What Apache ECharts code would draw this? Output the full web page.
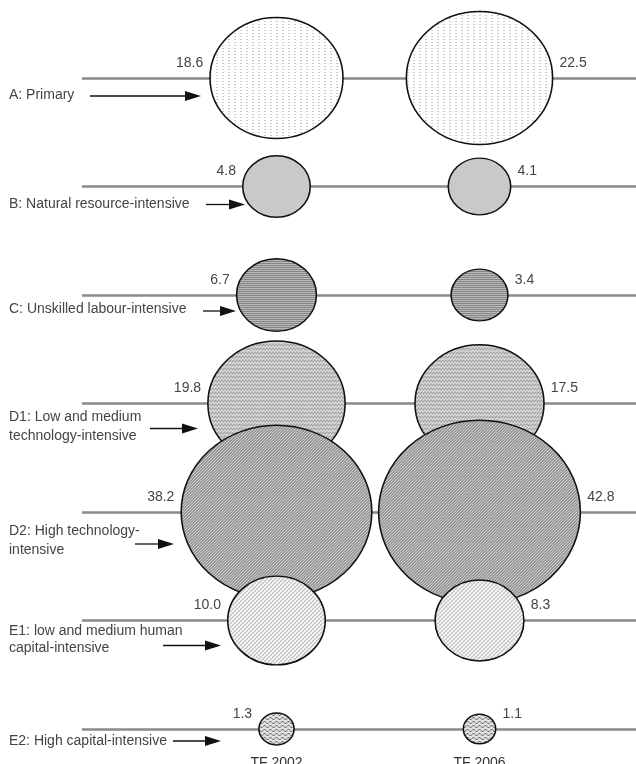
<!DOCTYPE html>
<html><head><meta charset="utf-8">
<script src="https://cdn.jsdelivr.net/npm/echarts@6/dist/echarts.min.js"></script>
<style>html,body{margin:0;padding:0;background:#fff}#c{width:636px;height:764px}</style>
</head><body><div id="c"></div>
<script>
// ---- data ----
const categories = ['A: Primary','B: Natural resource-intensive','C: Unskilled labour-intensive','D1: Low and medium technology-intensive','D2: High technology-intensive','E1: low and medium human capital-intensive','E2: High capital-intensive'];
const labelLines = [['A: Primary'],['B: Natural resource-intensive'],['C: Unskilled labour-intensive'],['D1: Low and medium','technology-intensive'],['D2: High technology-','intensive'],['E1: low and medium human','capital-intensive'],['E2: High capital-intensive']];
const periods = ['TF 2002','TF 2006'];
const values2002 = [18.6, 4.8, 6.7, 19.8, 38.2, 10.0, 1.3];
const values2006 = [22.5, 4.1, 3.4, 17.5, 42.8, 8.3, 1.1];

// ---- styling / layout (not data) ----
const FONT = '"Liberation Sans", Arial, sans-serif';
const KX = 30.84, KY = 28.06; // bubble size scale: area proportional to value
const annot = [
  {ty:[17], ay:18, ax:[90,201]},
  {ty:[18], ay:18, ax:[206,245]},
  {ty:[14], ay:16, ax:[203,236]},
  {ty:[14,33], ay:25, ax:[150,198]},
  {ty:[19,38], ay:32, ax:[135,174]},
  {ty:[11,28], ay:25, ax:[163,221]},
  {ty:[12], ay:12, ax:[173,221]}
];

function makeTile(w, h, bg, draw) {
  const c = document.createElement('canvas');
  c.width = w; c.height = h;
  const g = c.getContext('2d');
  g.fillStyle = bg; g.fillRect(0, 0, w, h);
  draw(g);
  return c;
}
function px(g, col, pts) { g.fillStyle = col; pts.forEach(p => g.fillRect(p[0], p[1], 1, 1)); }

const tiles = [
  makeTile(6, 3, '#ffffff', g => px(g, '#9a9a9a', [[0,0]])),
  makeTile(2, 2, '#f2f2f2', g => px(g, '#a0a0a0', [[0,0],[1,1]])),
  makeTile(2, 2, '#d8d8d8', g => { px(g, '#707070', [[0,0]]); px(g, '#9a9a9a', [[1,0],[0,1]]); }),
  makeTile(3, 4, '#e4e4e4', g => px(g, '#5a5a5a', [[2,0],[1,1],[0,2]])),
  makeTile(3, 3, '#cccccc', g => px(g, '#666666', [[2,0],[1,1],[0,2]])),
  makeTile(4, 4, '#fbfbfb', g => { px(g, '#6a6a6a', [[0,0],[2,2]]); px(g, '#bbbbbb', [[1,3],[3,1]]); }),
  makeTile(6, 4, '#e2e2e2', g => px(g, '#707070', [[0,0],[1,1],[2,2],[3,2],[4,1],[5,0]]))
];

const sizeOf = v => [KX * Math.sqrt(v), KY * Math.sqrt(v)];
// symbols are drawn as unit shapes scaled by size/2, so undo that scale on the pattern
function patternFor(i, v) {
  const s = sizeOf(v);
  return {image: tiles[i], repeat: 'repeat', scaleX: 2 / s[0], scaleY: 2 / s[1]};
}

const chart = echarts.init(document.getElementById('c'), null, {renderer: 'canvas'});

const series = categories.map((name, i) => ({
  type: 'scatter',
  name: name,
  clip: false,
  animation: false,
  data: [
    {value: [1, i, values2002[i]], label: {position: 'left'}, itemStyle: {color: patternFor(i, values2002[i])}},
    {value: [2, i, values2006[i]], label: {position: 'right'}, itemStyle: {color: patternFor(i, values2006[i])}}
  ],
  symbol: 'circle',
  symbolSize: v => sizeOf(v[2]),
  itemStyle: {borderColor: '#111', borderWidth: 1.5, opacity: 1},
  label: {
    show: true,
    formatter: p => p.value[2].toFixed(1),
    offset: [0, -15],
    distance: 6,
    color: '#444',
    fontSize: 14,
    fontFamily: FONT
  },
  emphasis: {disabled: true}
}));

chart.setOption({
  animation: false,
  grid: {left: 82, right: 0, top: 78, bottom: 35, containLabel: false, outerBoundsMode: 'none'},
  xAxis: {
    type: 'value',
    min: 1 - 194.5 / 203,
    max: 2 + 156.5 / 203,
    axisLine: {show: false},
    axisTick: {show: false},
    splitLine: {show: false},
    axisLabel: {
      customValues: [1, 2],
      formatter: v => periods[Math.round(v) - 1] || '',
      margin: 27,
      color: '#333',
      fontSize: 14,
      fontFamily: FONT
    }
  },
  yAxis: {
    type: 'value',
    inverse: true,
    min: 0,
    max: 6,
    interval: 1,
    axisLine: {show: false},
    axisTick: {show: false},
    axisLabel: {show: false},
    splitLine: {show: true, lineStyle: {color: '#8a8a8a', width: 2.5}}
  },
  series: series
});

// annotations: row labels and arrows, placed relative to each row's pixel position
const graphics = [];
categories.forEach((name, i) => {
  const y0 = chart.convertToPixel({yAxisIndex: 0}, i);
  const a = annot[i];
  labelLines[i].forEach((t, k) => {
    graphics.push({type: 'text', x: 9, y: y0 + a.ty[k], silent: true,
      style: {text: t, fill: '#444', font: '14px ' + FONT, textVerticalAlign: 'middle', textAlign: 'left'}});
  });
  const ay = y0 + a.ay, x1 = a.ax[0], x2 = a.ax[1];
  graphics.push({type: 'line', silent: true, shape: {x1: x1, y1: ay, x2: x2 - 12, y2: ay},
    style: {stroke: '#111', lineWidth: 1.3}});
  graphics.push({type: 'polygon', silent: true, shape: {points: [[x2, ay], [x2 - 16, ay - 5], [x2 - 16, ay + 5]]},
    style: {fill: '#111'}});
});
chart.setOption({graphic: graphics});
</script>
</body></html>
